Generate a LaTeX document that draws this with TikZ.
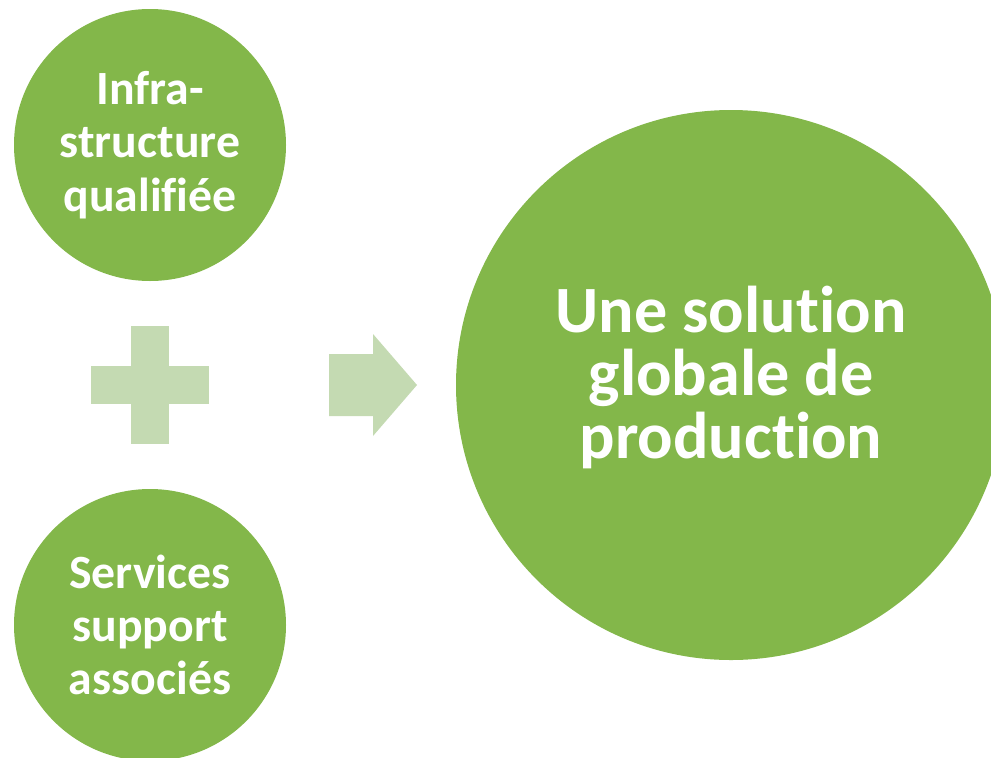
\documentclass[tikz,border=0pt]{standalone}
\usepackage{fontspec}
\setmainfont{Carlito}[Ligatures=NoCommon]
\definecolor{leafgreen}{HTML}{83B74A}
\definecolor{palegreen}{HTML}{C4DAB2}
\begin{document}
\begin{tikzpicture}[
    x=0.75pt, y=-0.75pt,
    bubble/.style={circle, fill=leafgreen, text=white, align=center, inner sep=0pt},
    small bubble/.style={bubble, minimum size=204pt, font=\fontsize{35.8}{40}\selectfont\bfseries},
    big bubble/.style={bubble, minimum size=412.5pt, text depth=19pt, font=\fontsize{49.6}{47.5}\selectfont\bfseries}
]
    \useasboundingbox (0,0) rectangle (991,757);
    \clip (0,0) rectangle (991,757);

    \node[small bubble] (infra) at (150,145) {Infra-\\structure\\qualifiée};
    \node[small bubble] (services) at (150,625) {Services\\support\\associés};
    \node[big bubble] (solution) at (731,385) {Une solution\\globale de\\production};

    % Add plus sign and arrow
    \coordinate (plus) at (150,385);
    \fill[palegreen] (plus) ++(-59,-19) rectangle ++(118,38);
    \fill[palegreen] (plus) ++(-19,-59) rectangle ++(38,118);
    \coordinate (arrow) at (329,385);
    \fill[palegreen] (arrow) ++(0,-31) -- ++(44,0) -- ++(0,-20) -- ++(44,51)
        -- ++(-44,51) -- ++(0,-20) -- ++(-44,0) -- cycle;
\end{tikzpicture}
\end{document}
